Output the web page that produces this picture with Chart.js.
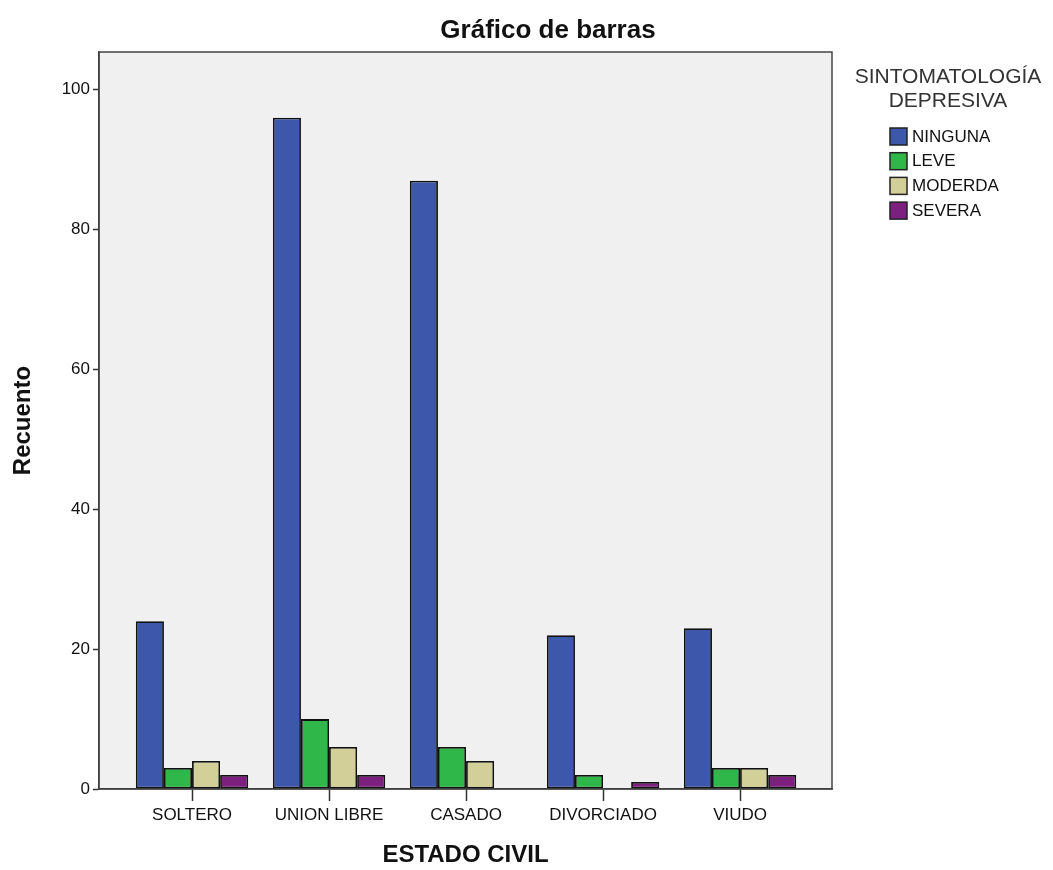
<!DOCTYPE html>
<html>
<head>
<meta charset="utf-8">
<script src="https://cdn.jsdelivr.net/npm/chart.js@4/dist/chart.umd.min.js"></script>
<style>
  html, body { margin: 0; padding: 0; background: #fff; }
  #wrap { width: 1053px; height: 870px; }
</style>
</head>
<body>
<div id="wrap"><canvas id="bar" width="1053" height="870"></canvas></div>
<script>
const categories = ['SOLTERO', 'UNION LIBRE', 'CASADO', 'DIVORCIADO', 'VIUDO']
const ninguna = [24, 96, 87, 22, 23]
const leve = [3, 10, 6, 2, 3]
const moderda = [4, 6, 4, 0, 3]
const severa = [2, 2, 0, 1, 2]
const yTicks = [0, 20, 40, 60, 80, 100]
const seriesNames = ['NINGUNA', 'LEVE', 'MODERDA', 'SEVERA']
const seriesColors = ['#3d58ab', '#2fb749', '#d3cf99', '#7c1f7e']

const FONT = '"Liberation Sans", Arial, sans-serif'

// grey plot background + frame
const plotFrame = {
  id: 'plotFrame',
  beforeDraw(chart) {
    const { ctx, chartArea: a } = chart
    ctx.save()
    ctx.fillStyle = '#f0f0f0'
    ctx.fillRect(a.left, a.top, a.right - a.left, a.bottom - a.top)
    ctx.restore()
  },
  afterDraw(chart) {
    const { ctx, chartArea: a } = chart
    ctx.save()
    ctx.strokeStyle = '#444'
    ctx.lineWidth = 1.5
    ctx.strokeRect(a.left, a.top, a.right - a.left, a.bottom - a.top)

    // title
    ctx.fillStyle = '#111'
    ctx.font = 'bold 26px ' + FONT
    ctx.textAlign = 'center'
    ctx.textBaseline = 'middle'
    ctx.fillText('Gráfico de barras', 548, 31)

    // legend
    ctx.fillStyle = '#333'
    ctx.font = '21px ' + FONT
    ctx.fillText('SINTOMATOLOGÍA', 948, 77)
    ctx.fillText('DEPRESIVA', 948, 101)
    ctx.font = '17px ' + FONT
    ctx.textAlign = 'left'
    seriesNames.forEach((name, i) => {
      const y = 136 + i * 24.7
      ctx.fillStyle = seriesColors[i]
      ctx.fillRect(890, y - 8, 17, 17)
      ctx.strokeStyle = '#222'
      ctx.lineWidth = 1.5
      ctx.strokeRect(890, y - 8, 17, 17)
      ctx.fillStyle = '#111'
      ctx.fillText(name, 912, y + 1)
    })
    ctx.restore()
  },
}

const mkSet = (label, data, i) => ({
  label: label,
  data: data,
  backgroundColor: seriesColors[i],
  borderColor: '#111',
  borderWidth: (c) => (c.raw === 0 ? 0 : 1.8),
  borderSkipped: false,
  categoryPercentage: 0.82,
  barPercentage: 1,
})

new Chart(document.getElementById('bar'), {
  type: 'bar',
  data: {
    labels: categories,
    datasets: [
      mkSet(seriesNames[0], ninguna, 0),
      mkSet(seriesNames[1], leve, 1),
      mkSet(seriesNames[2], moderda, 2),
      mkSet(seriesNames[3], severa, 3),
    ],
  },
  options: {
    responsive: false,
    animation: false,
    layout: { padding: { top: 52, right: 221, left: 0, bottom: 0 } },
    plugins: {
      legend: { display: false },
      title: { display: false },
      tooltip: { enabled: false },
    },
    scales: {
      x: {
        afterFit: (s) => { s.height = 81 },
        afterBuildTicks: (s) => {
          // SPSS leaves wider margins at both ends of the category axis
          s._startValue = -0.679
          s._valueRange = 5.35
        },
        grid: {
          offset: false,
          drawOnChartArea: false,
          drawTicks: true,
          tickLength: 12,
          tickWidth: 1.5,
          tickColor: '#333',
        },
        border: { display: true, color: '#333', width: 1.5 },
        ticks: { color: '#111', font: { family: FONT, size: 17 }, padding: 4, maxRotation: 0 },
        title: {
          display: true,
          text: 'ESTADO CIVIL',
          color: '#111',
          font: { family: FONT, size: 24, weight: 'bold' },
          padding: { top: 18, bottom: 0 },
        },
      },
      y: {
        min: 0,
        max: 105.4,
        afterFit: (s) => { s.width = 99 },
        afterBuildTicks: (s) => {
          s.ticks = yTicks.map((v) => ({ value: v }))
        },
        grid: {
          drawOnChartArea: false,
          drawTicks: true,
          tickLength: 6,
          tickWidth: 1.5,
          tickColor: '#333',
        },
        border: { display: true, color: '#333', width: 1.5 },
        ticks: { color: '#111', font: { family: FONT, size: 17 }, padding: 3 },
        title: {
          display: true,
          text: 'Recuento',
          color: '#111',
          font: { family: FONT, size: 24, weight: 'bold' },
          padding: { top: 9, bottom: 0 },
        },
      },
    },
  },
  plugins: [plotFrame],
})
</script>
</body>
</html>
